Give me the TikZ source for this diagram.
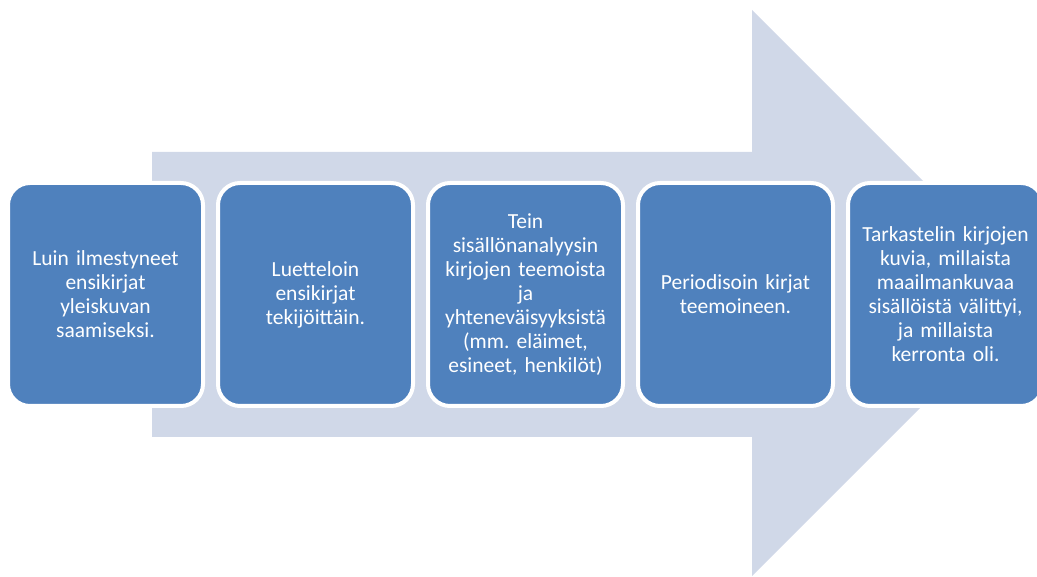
\documentclass[tikz,border=0pt]{standalone}
\usepackage{fontspec}
\setmainfont{Carlito}
\frenchspacing
\definecolor{boxblue}{HTML}{4F81BD}
\definecolor{arrowgray}{HTML}{D0D8E8}
\begin{document}
\begin{tikzpicture}[x=1pt,y=-1pt,
  stepbox/.style={rectangle, rounded corners=22pt, minimum width=195pt, minimum height=223pt,
    fill=boxblue, draw=white, line width=4pt, text=white, align=center, text width=188pt,
    font=\fontsize{21.5}{24}\selectfont, inner sep=0pt}]
\useasboundingbox (0,0) rectangle (1037,577);
\begin{scope}
\clip (0,0) rectangle (1037,577);
\fill[arrowgray] (152,152) -- (752,152) -- (752,10) -- (1035,293) -- (752,576) -- (752,437) -- (152,437) -- cycle;
\node[stepbox] (s1) at (105.5,294.5) {Luin ilmestyneet\\ensikirjat\\yleiskuvan\\saamiseksi.};
\node[stepbox] (s2) at (315.5,294.5) {Luetteloin\\ensikirjat\\tekijöittäin.};
\node[stepbox] (s3) at (525.5,294.5) {Tein\\sisällönanalyysin\\kirjojen teemoista\\ja\\yhteneväisyyksistä\\(mm. eläimet,\\esineet, henkilöt)};
\node[stepbox] (s4) at (735.5,294.5) {Periodisoin kirjat\\teemoineen.};
\node[stepbox] (s5) at (945.5,294.5) {Tarkastelin kirjojen\\kuvia, millaista\\maailmankuvaa\\sisällöistä välittyi,\\ja millaista\\kerronta oli.};
\end{scope}
\end{tikzpicture}
\end{document}
